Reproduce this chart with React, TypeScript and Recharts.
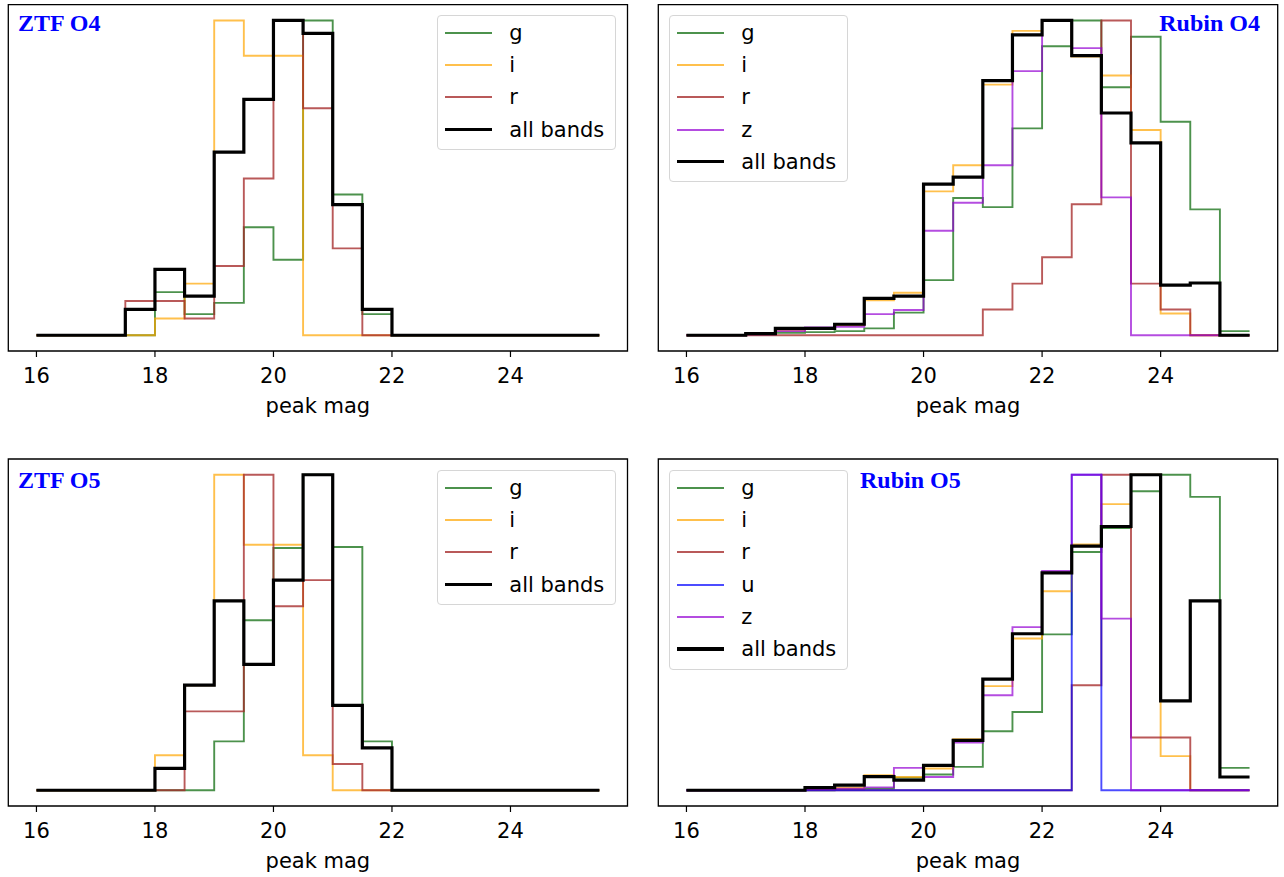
import { LineChart, Line, XAxis, YAxis, ReferenceArea, Legend, Label } from 'recharts'

// bin edges of the peak-mag histograms (0.5 mag bins)
const BIN_EDGES = [16, 16.5, 17, 17.5, 18, 18.5, 19, 19.5, 20, 20.5, 21, 21.5, 22, 22.5, 23, 23.5, 24, 24.5, 25, 25.5]
const X_TICKS = [16, 18, 20, 22, 24]
const X_DOMAIN: [number, number] = [15.525, 25.975]
const Y_DOMAIN: [number, number] = [-0.05, 1.05]

// normalised counts per bin (19 bins, 16 -> 25.5)
const ZTF_O4_G = [0, 0, 0, 0, 0.137, 0.067, 0.103, 0.343, 0.24, 1.0, 0.447, 0.067, 0, 0, 0, 0, 0, 0, 0]
const ZTF_O4_I = [0, 0, 0, 0, 0.053, 0.164, 1.0, 0.888, 0.888, 0, 0, 0, 0, 0, 0, 0, 0, 0, 0]
const ZTF_O4_R = [0, 0, 0, 0.109, 0.109, 0.053, 0.22, 0.498, 1.0, 0.721, 0.276, 0, 0, 0, 0, 0, 0, 0, 0]
const ZTF_O4_ALL = [0, 0, 0, 0.082, 0.209, 0.124, 0.582, 0.749, 1.0, 0.959, 0.415, 0.082, 0, 0, 0, 0, 0, 0, 0]

const RUBIN_O4_G = [0, 0, 0.003, 0.008, 0.01, 0.013, 0.022, 0.072, 0.175, 0.436, 0.407, 0.657, 0.918, 1.0, 0.788, 0.948, 0.678, 0.4, 0.013]
const RUBIN_O4_I = [0, 0, 0.006, 0.016, 0.022, 0.032, 0.111, 0.135, 0.457, 0.54, 0.796, 0.967, 1.0, 0.885, 0.825, 0.652, 0.069, 0, 0]
const RUBIN_O4_R = [0, 0, 0, 0, 0, 0, 0, 0, 0, 0, 0.082, 0.164, 0.248, 0.416, 1.0, 0.164, 0.082, 0, 0]
const RUBIN_O4_Z = [0, 0, 0.003, 0.013, 0.025, 0.027, 0.067, 0.08, 0.332, 0.421, 0.54, 0.839, 1.0, 0.912, 0.438, 0, 0, 0, 0]
const RUBIN_O4_ALL = [0, 0, 0.005, 0.022, 0.022, 0.035, 0.117, 0.124, 0.48, 0.502, 0.809, 0.954, 1.0, 0.888, 0.706, 0.611, 0.159, 0.166, 0]

const ZTF_O5_G = [0, 0, 0, 0, 0, 0, 0.155, 0.539, 0.768, 1.0, 0.771, 0.155, 0, 0, 0, 0, 0, 0, 0]
const ZTF_O5_I = [0, 0, 0, 0, 0.111, 0.333, 1.0, 0.778, 0.778, 0.111, 0, 0, 0, 0, 0, 0, 0, 0, 0]
const ZTF_O5_R = [0, 0, 0, 0, 0, 0.25, 0.25, 1.0, 0.583, 0.666, 0.083, 0, 0, 0, 0, 0, 0, 0, 0]
const ZTF_O5_ALL = [0, 0, 0, 0, 0.069, 0.333, 0.6, 0.399, 0.666, 1.0, 0.269, 0.134, 0, 0, 0, 0, 0, 0, 0]

const RUBIN_O5_G = [0, 0, 0, 0, 0, 0.003, 0.005, 0.04, 0.05, 0.074, 0.187, 0.248, 0.494, 0.755, 0.831, 0.948, 1.0, 0.93, 0.071]
const RUBIN_O5_I = [0, 0, 0, 0, 0.005, 0.008, 0.048, 0.042, 0.069, 0.162, 0.33, 0.481, 0.631, 0.779, 0.907, 1.0, 0.108, 0, 0]
const RUBIN_O5_R = [0, 0, 0, 0, 0, 0, 0, 0, 0, 0, 0, 0, 0, 0.333, 1.0, 0.167, 0.167, 0, 0]
const RUBIN_O5_U = [0, 0, 0, 0, 0, 0, 0, 0, 0, 0, 0, 0, 0, 1.0, 0, 0, 0, 0, 0]
const RUBIN_O5_Z = [0, 0, 0, 0, 0.003, 0.005, 0.009, 0.071, 0.042, 0.151, 0.301, 0.517, 0.695, 1.0, 0.544, 0, 0, 0, 0]
const RUBIN_O5_ALL = [0, 0, 0, 0, 0.008, 0.016, 0.043, 0.032, 0.079, 0.158, 0.352, 0.496, 0.689, 0.774, 0.836, 1.0, 0.283, 0.6, 0.042]

const BAND_STYLE: Record<string, { color: string; opacity: number; width: number }> = {
  g: { color: '#006400', opacity: 0.7, width: 1.9 },
  i: { color: '#FFA500', opacity: 0.7, width: 1.9 },
  r: { color: '#A52A2A', opacity: 0.78, width: 1.9 },
  u: { color: '#0000FF', opacity: 0.7, width: 1.9 },
  z: { color: '#9400D3', opacity: 0.7, width: 1.9 },
  all: { color: '#000000', opacity: 1, width: 3.2 },
}

const SANS = 'DejaVu Sans, sans-serif'

type Band = { key: string; label: string; values: number[] }

type PanelProps = {
  title: string
  titleX: number
  titleY: number
  titleAnchor: 'start' | 'end'
  bands: Band[]
  left: number
  top: number
  width: number
  height: number
  margin: { top: number; right: number; bottom: number; left: number }
  legendLeft: number
  legendTop: number
}

function buildRows(bands: Band[]) {
  return BIN_EDGES.map((x, k) => {
    const row: Record<string, number> = { x }
    for (const b of bands) row[b.key] = b.values[Math.min(k, b.values.length - 1)]
    return row
  })
}

function LegendBox({ bands }: { bands: Band[] }) {
  return (
    <div
      style={{
        boxSizing: 'border-box',
        width: 179,
        border: '1px solid #d6d6d6',
        borderRadius: 4,
        background: 'rgba(255,255,255,0.85)',
        padding: '0.5px 0 3.5px 6.7px',
        fontFamily: SANS,
        fontSize: 21,
        color: '#000',
      }}
    >
      {bands.map((b) => {
        const s = BAND_STYLE[b.key]
        return (
          <div key={b.key} style={{ height: 32.3, display: 'flex', alignItems: 'center' }}>
            <span
              style={{
                display: 'inline-block',
                width: 46.7,
                height: b.key === 'all' ? 3.3 : 2,
                background: s.color,
                opacity: s.opacity,
                marginRight: 17.6,
              }}
            />
            <span style={{ lineHeight: '24px' }}>{b.label}</span>
          </div>
        )
      })}
    </div>
  )
}

function Panel(p: PanelProps) {
  const rows = buildRows(p.bands)
  return (
    <div style={{ position: 'absolute', left: p.left, top: p.top, width: p.width, height: p.height }}>
      <LineChart width={p.width} height={p.height} data={rows} margin={p.margin}>
        <XAxis
          dataKey="x"
          type="number"
          domain={X_DOMAIN}
          ticks={X_TICKS}
          allowDataOverflow
          axisLine={false}
          tickLine={{ stroke: '#000', strokeWidth: 1.2 }}
          tickSize={6}
          tickMargin={11}
          height={62}
          tick={{ fontSize: 21, fill: '#000', fontFamily: SANS }}
        >
          <Label
            value="peak mag"
            position="insideBottom"
            offset={0}
            style={{ fontSize: 21, fill: '#000', fontFamily: SANS }}
          />
        </XAxis>
        <YAxis hide type="number" domain={Y_DOMAIN} allowDataOverflow />
        <ReferenceArea
          x1={X_DOMAIN[0]}
          x2={X_DOMAIN[1]}
          y1={Y_DOMAIN[0]}
          y2={Y_DOMAIN[1]}
          fill="none"
          stroke="#000"
          strokeWidth={1.3}
          ifOverflow="visible"
        />
        {p.bands.map((b) => {
          const s = BAND_STYLE[b.key]
          return (
            <Line
              key={b.key}
              type="stepAfter"
              dataKey={b.key}
              name={b.label}
              stroke={s.color}
              strokeOpacity={s.opacity}
              strokeWidth={s.width}
              dot={false}
              activeDot={false}
              isAnimationActive={false}
            />
          )
        })}
        <Legend
          layout="vertical"
          align="center"
          verticalAlign="middle"
          wrapperStyle={{ left: p.legendLeft, top: p.legendTop, width: 'auto', height: 'auto' }}
          content={() => <LegendBox bands={p.bands} />}
        />
      </LineChart>
      <svg
        width={p.width}
        height={p.height}
        style={{ position: 'absolute', left: 0, top: 0, pointerEvents: 'none' }}
      >
        <text
          x={p.titleX}
          y={p.titleY}
          textAnchor={p.titleAnchor}
          fill="#0000FF"
          fontWeight="bold"
          fontSize={24}
          fontFamily="Liberation Serif, Times New Roman, serif"
        >
          {p.title}
        </text>
      </svg>
    </div>
  )
}

export default function App() {
  const topMargin = { top: 4.7, bottom: 27 }
  const bottomMargin = { top: 19, bottom: 9 }
  return (
    <div style={{ position: 'absolute', left: 0, top: 0, width: 1284, height: 877, background: '#fff' }}>
      <Panel
        title="ZTF O4"
        titleX={18}
        titleY={30.7}
        titleAnchor="start"
        bands={[
          { key: 'g', label: 'g', values: ZTF_O4_G },
          { key: 'i', label: 'i', values: ZTF_O4_I },
          { key: 'r', label: 'r', values: ZTF_O4_R },
          { key: 'all', label: 'all bands', values: ZTF_O4_ALL },
        ]}
        left={0}
        top={0}
        width={642}
        height={440}
        margin={{ ...topMargin, left: 8.3, right: 14.5 }}
        legendLeft={437.3}
        legendTop={15}
      />
      <Panel
        title="Rubin O4"
        titleX={618}
        titleY={30.7}
        titleAnchor="end"
        bands={[
          { key: 'g', label: 'g', values: RUBIN_O4_G },
          { key: 'i', label: 'i', values: RUBIN_O4_I },
          { key: 'r', label: 'r', values: RUBIN_O4_R },
          { key: 'z', label: 'z', values: RUBIN_O4_Z },
          { key: 'all', label: 'all bands', values: RUBIN_O4_ALL },
        ]}
        left={642}
        top={0}
        width={642}
        height={440}
        margin={{ ...topMargin, left: 16.3, right: 6.3 }}
        legendLeft={27.3}
        legendTop={15}
      />
      <Panel
        title="ZTF O5"
        titleX={18}
        titleY={47.7}
        titleAnchor="start"
        bands={[
          { key: 'g', label: 'g', values: ZTF_O5_G },
          { key: 'i', label: 'i', values: ZTF_O5_I },
          { key: 'r', label: 'r', values: ZTF_O5_R },
          { key: 'all', label: 'all bands', values: ZTF_O5_ALL },
        ]}
        left={0}
        top={440}
        width={642}
        height={437}
        margin={{ ...bottomMargin, left: 8.3, right: 14.5 }}
        legendLeft={437.3}
        legendTop={30}
      />
      <Panel
        title="Rubin O5"
        titleX={218}
        titleY={47.7}
        titleAnchor="start"
        bands={[
          { key: 'g', label: 'g', values: RUBIN_O5_G },
          { key: 'i', label: 'i', values: RUBIN_O5_I },
          { key: 'r', label: 'r', values: RUBIN_O5_R },
          { key: 'u', label: 'u', values: RUBIN_O5_U },
          { key: 'z', label: 'z', values: RUBIN_O5_Z },
          { key: 'all', label: 'all bands', values: RUBIN_O5_ALL },
        ]}
        left={642}
        top={440}
        width={642}
        height={437}
        margin={{ ...bottomMargin, left: 16.3, right: 6.3 }}
        legendLeft={27.3}
        legendTop={30}
      />
    </div>
  )
}
